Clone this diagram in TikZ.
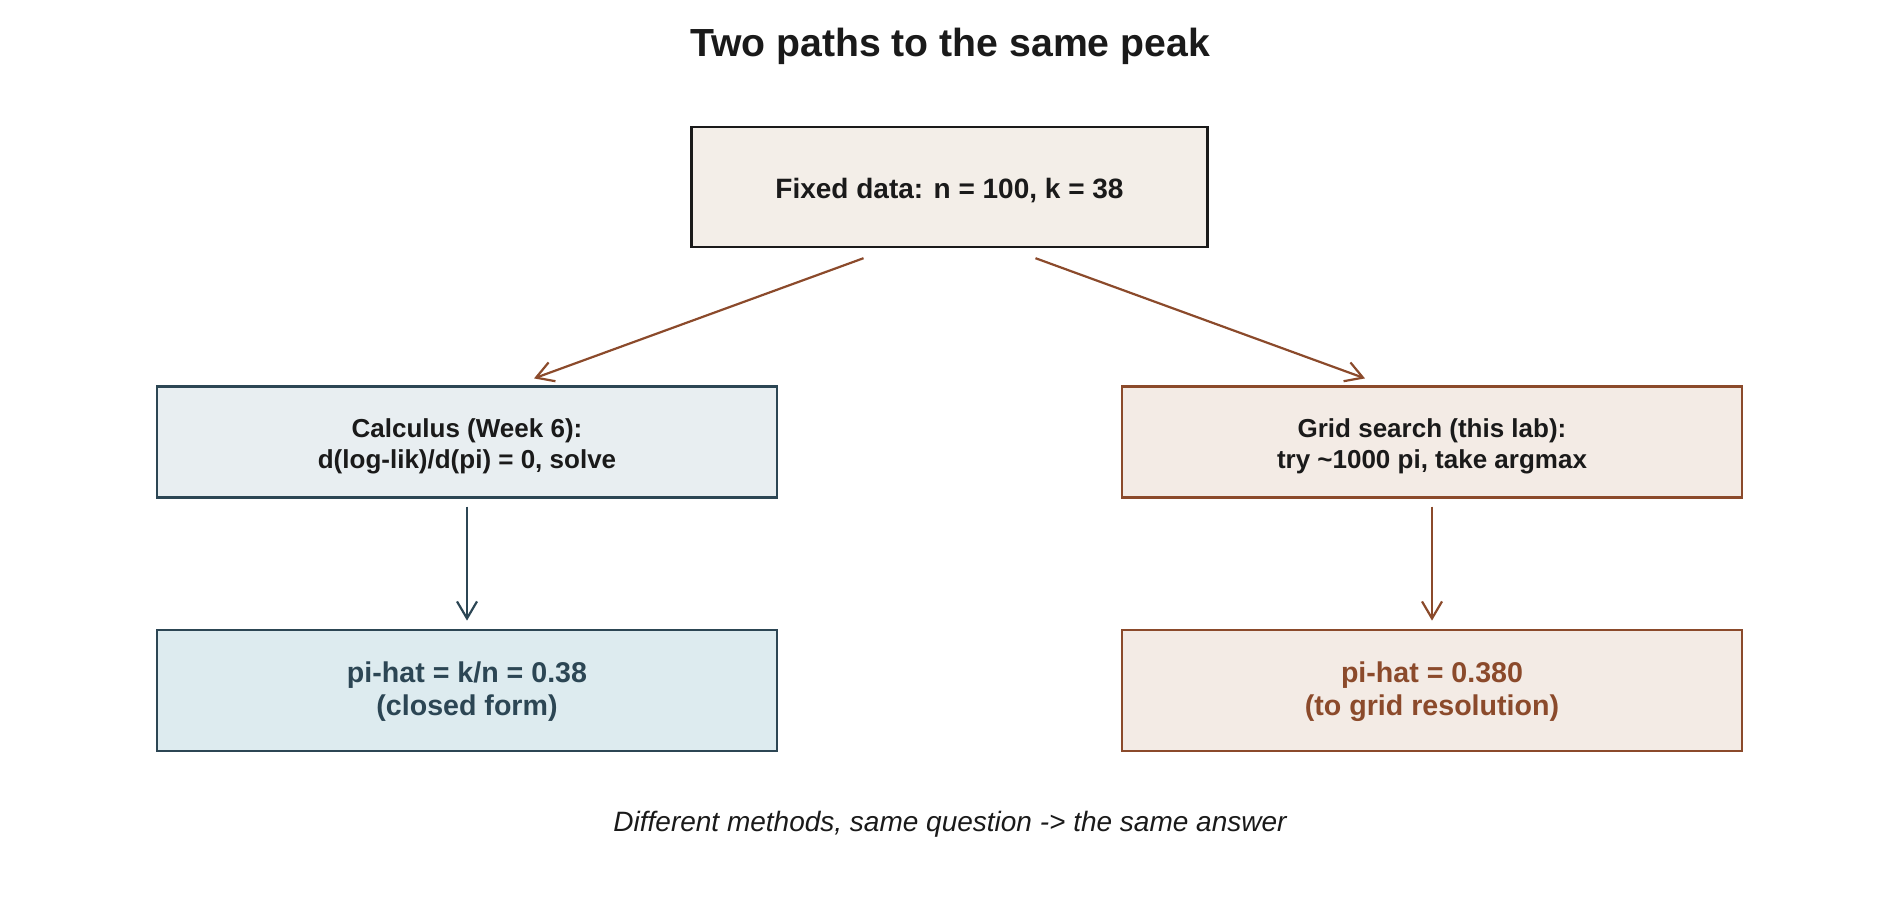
\documentclass[tikz,border=0pt]{standalone}
\usepackage{fontspec}
\setmainfont{Liberation Sans}
\usepackage{tikz}
\usetikzlibrary{arrows.meta,positioning}
\definecolor{SlateBlue}{RGB}{44,70,84}
\definecolor{Rust}{RGB}{139,74,43}
\definecolor{Cream}{RGB}{243,238,232}
\definecolor{MistBlue}{RGB}{232,238,241}
\definecolor{PaleTeal}{RGB}{221,235,239}
\definecolor{Blush}{RGB}{243,235,229}
\definecolor{InkBlack}{RGB}{26,26,26}
% two centred lines, pushed down a little inside the box
\newcommand{\twolines}[3]{\raisebox{0pt}[\dimexpr\height+#1\relax][\depth]{%
  \begin{tabular}{@{}c@{}}#2\\#3\end{tabular}}}
\tikzset{
  databox/.style={draw=InkBlack,line width=1.2pt,fill=Cream,
    minimum width=258pt,minimum height=60pt,align=center,
    font=\fontsize{14}{16}\selectfont\bfseries,text=InkBlack,
    execute at begin node={\rule{0pt}{0.99em}}},
  methodbox/.style={line width=1.1pt,minimum width=310pt,minimum height=55.5pt,
    inner sep=0pt,font=\fontsize{13}{15.6}\selectfont\bfseries,text=InkBlack},
  resultbox/.style={line width=1.1pt,minimum width=310pt,minimum height=60.5pt,
    inner sep=0pt,font=\fontsize{14.3}{16.5}\selectfont\bfseries},
  flowarrow/.style={-{Straight Barb[length=8.5pt,width=10pt]},line width=1.1pt},
}
\begin{document}
\begin{tikzpicture}[x=0.5pt,y=-0.5pt]
  \useasboundingbox (0,0) rectangle (1900,900);
  \node[font=\fontsize{19.6}{22}\selectfont\bfseries,text=InkBlack] (title)
    at (950,46) {Two paths to the same peak};
  \node[databox] (data) at (949.5,187) {Fixed data: n = 100, k = 38};
  \node[methodbox,draw=SlateBlue,fill=MistBlue] (calculus) at (467,442)
    {\twolines{4.8pt}{Calculus (Week 6):}{d(log-lik)/d(pi) = 0, solve}};
  \node[methodbox,draw=Rust,fill=Blush] (grid) at (1432,442)
    {\twolines{4.8pt}{Grid search (this lab):}{try \textasciitilde 1000 pi, take argmax}};
  \node[resultbox,draw=SlateBlue,fill=PaleTeal,text=SlateBlue,below=65pt of calculus]
    (closedform) {\twolines{2.4pt}{pi-hat = k/n = 0.38}{(closed form)}};
  \node[resultbox,draw=Rust,fill=Blush,text=Rust,below=65pt of grid]
    (gridres) {\twolines{2.4pt}{pi-hat = 0.380}{(to grid resolution)}};
  \node[font=\fontsize{14}{16}\selectfont\itshape,text=InkBlack] (caption)
    at (950,824) {Different methods, same question -> the same answer};
  \draw[flowarrow,draw=Rust] ([xshift=-43pt,yshift=-5pt]data.south)
    -- ([xshift=33.5pt,yshift=3.5pt]calculus.north);
  \draw[flowarrow,draw=Rust] ([xshift=43pt,yshift=-5pt]data.south)
    -- ([xshift=-33.5pt,yshift=3.5pt]grid.north);
  \draw[flowarrow,draw=SlateBlue] ([yshift=-4pt]calculus.south) -- ([yshift=4pt]closedform.north);
  \draw[flowarrow,draw=Rust] ([yshift=-4pt]grid.south) -- ([yshift=4pt]gridres.north);
\end{tikzpicture}
\end{document}
